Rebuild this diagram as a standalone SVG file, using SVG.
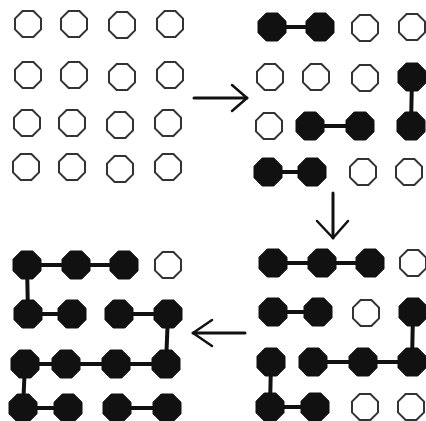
<svg xmlns="http://www.w3.org/2000/svg" xmlns:xlink="http://www.w3.org/1999/xlink" width="426" height="421" viewBox="0 0 426 421">
<style>
.o{fill:#fff;stroke:#333;stroke-width:2}
.f{fill:#111;stroke:#111;stroke-width:1}
.c line{stroke:#111;stroke-width:4}
.a{fill:none;stroke:#111;stroke-width:2.5;stroke-linecap:round;stroke-linejoin:round}
</style>
<defs>
<polygon id="oct" points="5.4,-13 13,-5.4 13,5.4 5.4,13 -5.4,13 -13,5.4 -13,-5.4 -5.4,-13"/>
<polygon id="foct" points="5.8,-14 14,-5.8 14,5.8 5.8,14 -5.8,14 -14,5.8 -14,-5.8 -5.8,-14"/>
</defs>
<rect width="426" height="421" fill="#fff"/>
<g id="connectors" class="c">
<line x1="272" y1="27" x2="320" y2="27"/>
<line x1="412" y1="77" x2="411" y2="126"/>
<line x1="310" y1="126" x2="360" y2="126"/>
<line x1="268" y1="172" x2="312" y2="172"/>
<line x1="273" y1="263" x2="370" y2="263"/>
<line x1="273" y1="312" x2="318" y2="312"/>
<line x1="413" y1="312" x2="412" y2="362"/>
<line x1="313" y1="362" x2="412" y2="362"/>
<line x1="271" y1="362" x2="270" y2="407"/>
<line x1="270" y1="407" x2="315" y2="407"/>
<line x1="27" y1="265" x2="124" y2="265"/>
<line x1="27" y1="265" x2="28" y2="314"/>
<line x1="28" y1="314" x2="72" y2="314"/>
<line x1="119" y1="314" x2="168" y2="314"/>
<line x1="168" y1="314" x2="166" y2="364"/>
<line x1="25" y1="364" x2="166" y2="364"/>
<line x1="25" y1="364" x2="23" y2="408"/>
<line x1="23" y1="408" x2="68" y2="408"/>
<line x1="117" y1="408" x2="167" y2="408"/>
</g>
<g id="arrows">
<g id="arrow-right"><line class="a" x1="194" y1="98" x2="247" y2="98" style="stroke-width:3"/><polyline class="a" points="232,85 247,98 232,111"/></g>
<g id="arrow-down"><line class="a" x1="333" y1="193" x2="333" y2="238" style="stroke-width:3"/><polyline class="a" points="317,221 333,238 348,221"/></g>
<g id="arrow-left"><line class="a" x1="245" y1="333" x2="193" y2="333" style="stroke-width:3"/><polyline class="a" points="212,320 193,333 212,346"/></g>
</g>
<g id="grid-tl">
<g id="tl11"><use href="#oct" class="o" x="28" y="24"/></g>
<g id="tl12"><use href="#oct" class="o" x="74" y="24"/></g>
<g id="tl13"><use href="#oct" class="o" x="122" y="25"/></g>
<g id="tl14"><use href="#oct" class="o" x="170" y="24"/></g>
<g id="tl21"><use href="#oct" class="o" x="28" y="75"/></g>
<g id="tl22"><use href="#oct" class="o" x="74" y="75"/></g>
<g id="tl23"><use href="#oct" class="o" x="122" y="77"/></g>
<g id="tl24"><use href="#oct" class="o" x="170" y="75"/></g>
<g id="tl31"><use href="#oct" class="o" x="27" y="123"/></g>
<g id="tl32"><use href="#oct" class="o" x="72" y="123"/></g>
<g id="tl33"><use href="#oct" class="o" x="120" y="125"/></g>
<g id="tl34"><use href="#oct" class="o" x="168" y="123"/></g>
<g id="tl41"><use href="#oct" class="o" x="26" y="167"/></g>
<g id="tl42"><use href="#oct" class="o" x="72" y="167"/></g>
<g id="tl43"><use href="#oct" class="o" x="120" y="169"/></g>
<g id="tl44"><use href="#oct" class="o" x="168" y="167"/></g>
</g>
<g id="grid-tr">
<g id="tr11"><use href="#foct" class="f" x="272" y="27"/></g>
<g id="tr12"><use href="#foct" class="f" x="320" y="27"/></g>
<g id="tr13"><use href="#oct" class="o" x="365" y="28"/></g>
<g id="tr14"><use href="#oct" class="o" x="412" y="27"/></g>
<g id="tr21"><use href="#oct" class="o" x="270" y="77"/></g>
<g id="tr22"><use href="#oct" class="o" x="316" y="77"/></g>
<g id="tr23"><use href="#oct" class="o" x="365" y="78"/></g>
<g id="tr24"><use href="#foct" class="f" x="412" y="77"/></g>
<g id="tr31"><use href="#oct" class="o" x="269" y="126"/></g>
<g id="tr32"><use href="#foct" class="f" x="310" y="126"/></g>
<g id="tr33"><use href="#foct" class="f" x="360" y="126"/></g>
<g id="tr34"><use href="#foct" class="f" x="411" y="126"/></g>
<g id="tr41"><use href="#foct" class="f" x="268" y="172"/></g>
<g id="tr42"><use href="#foct" class="f" x="312" y="172"/></g>
<g id="tr43"><use href="#oct" class="o" x="363" y="172"/></g>
<g id="tr44"><use href="#oct" class="o" x="409" y="172"/></g>
</g>
<g id="grid-br">
<g id="br11"><use href="#foct" class="f" x="273" y="263"/></g>
<g id="br12"><use href="#foct" class="f" x="322" y="263"/></g>
<g id="br13"><use href="#foct" class="f" x="370" y="263"/></g>
<g id="br14"><use href="#oct" class="o" x="413" y="263"/></g>
<g id="br21"><use href="#foct" class="f" x="273" y="312"/></g>
<g id="br22"><use href="#foct" class="f" x="318" y="312"/></g>
<g id="br23"><use href="#oct" class="o" x="366" y="313"/></g>
<g id="br24"><use href="#foct" class="f" x="413" y="312"/></g>
<g id="br31"><use href="#foct" class="f" x="271" y="362"/></g>
<g id="br32"><use href="#foct" class="f" x="313" y="362"/></g>
<g id="br33"><use href="#foct" class="f" x="363" y="362"/></g>
<g id="br34"><use href="#foct" class="f" x="412" y="362"/></g>
<g id="br41"><use href="#foct" class="f" x="270" y="407"/></g>
<g id="br42"><use href="#foct" class="f" x="315" y="407"/></g>
<g id="br43"><use href="#oct" class="o" x="365" y="407"/></g>
<g id="br44"><use href="#oct" class="o" x="411" y="407"/></g>
</g>
<g id="grid-bl">
<g id="bl11"><use href="#foct" class="f" x="27" y="265"/></g>
<g id="bl12"><use href="#foct" class="f" x="76" y="265"/></g>
<g id="bl13"><use href="#foct" class="f" x="124" y="265"/></g>
<g id="bl14"><use href="#oct" class="o" x="168" y="265"/></g>
<g id="bl21"><use href="#foct" class="f" x="28" y="314"/></g>
<g id="bl22"><use href="#foct" class="f" x="72" y="314"/></g>
<g id="bl23"><use href="#foct" class="f" x="119" y="314"/></g>
<g id="bl24"><use href="#foct" class="f" x="168" y="314"/></g>
<g id="bl31"><use href="#foct" class="f" x="25" y="364"/></g>
<g id="bl32"><use href="#foct" class="f" x="66" y="364"/></g>
<g id="bl33"><use href="#foct" class="f" x="116" y="364"/></g>
<g id="bl34"><use href="#foct" class="f" x="166" y="364"/></g>
<g id="bl41"><use href="#foct" class="f" x="23" y="408"/></g>
<g id="bl42"><use href="#foct" class="f" x="68" y="408"/></g>
<g id="bl43"><use href="#foct" class="f" x="117" y="408"/></g>
<g id="bl44"><use href="#foct" class="f" x="167" y="408"/></g>
</g>
</svg>
